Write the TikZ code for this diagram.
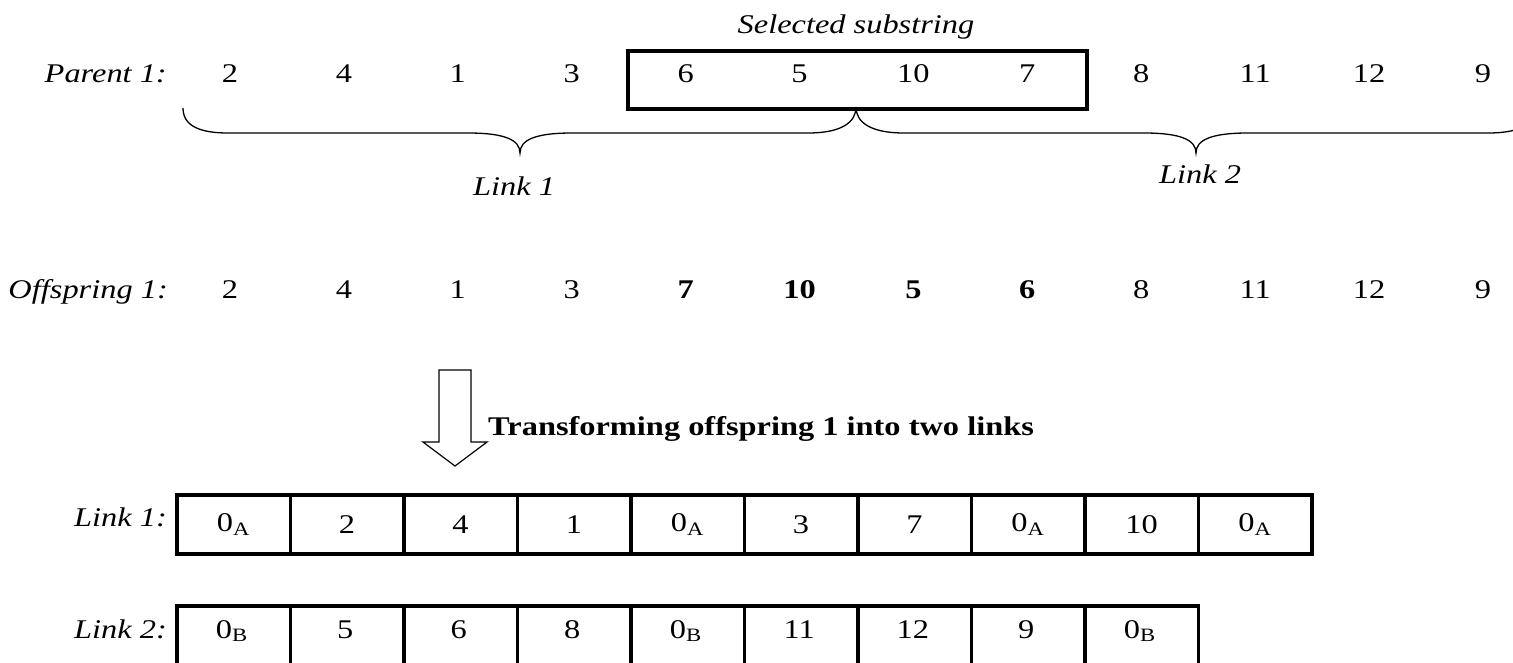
\documentclass[tikz,border=0pt]{standalone}
\usepackage{fontspec}
\setmainfont{Liberation Serif}[FakeStretch=1.2]
\begin{document}
\begin{tikzpicture}[x=1pt,y=-1pt,
  txt/.style={inner sep=0pt,anchor=base,font=\fontsize{27}{31}\selectfont},
  lbl/.style={txt,anchor=base east,font=\fontsize{27}{31}\selectfont\itshape},
  cell/.style={draw,line width=3.5pt,minimum width=113.5pt,inner sep=0pt,anchor=north west,font=\fontsize{27}{31}\selectfont},
  bracepath/.style={line width=1.3pt},
  thickbox/.style={draw,line width=3.5pt}]
\clip (0,0) rectangle (1513,662);
% row labels
\node[lbl] (p1) at (167,82) {Parent 1:};
\node[lbl] (o1) at (168,298) {Offspring 1:};
% parent numbers
\foreach \v [count=\i from 0] in {2,4,1,3,6,5,10,7,8,11,12,9}
  \node[txt] (p\i) at ({230+113.9*\i},82) {\v};
% offspring numbers
\foreach \v/\b [count=\i from 0] in {2/0,4/0,1/0,3/0,7/1,10/1,5/1,6/1,8/0,11/0,12/0,9/0}
  \node[txt] (o\i) at ({230+113.9*\i},298) {\ifnum\b=1 \bfseries\fi\v};
% selected substring box
\draw[line width=3.5pt] (628,51) rectangle (1087,109);
\node[txt,font=\fontsize{27}{31}\selectfont\itshape] (sel) at (856,33) {Selected substring};
% braces
\draw[bracepath] (183,108) .. controls (183,126) and (200,133) .. (228,133)
  -- (468,133) .. controls (505,133) and (520,140) .. (520,153)
  .. controls (520,140) and (535,133) .. (572,133)
  -- (808,133) .. controls (842,133) and (856,122) .. (856,107);
\draw[bracepath] (856,107) .. controls (856,122) and (870,133) .. (904,133)
  -- (1144,133) .. controls (1181,133) and (1196,140) .. (1196,153)
  .. controls (1196,140) and (1211,133) .. (1248,133)
  -- (1488,133) .. controls (1516,133) and (1536,126) .. (1536,108);
\node[txt,font=\fontsize{27}{31}\selectfont\itshape] (l1) at (514,195) {Link 1};
\node[txt,font=\fontsize{27}{31}\selectfont\itshape] (l2) at (1200,183) {Link 2};
% block arrow
\draw[line width=1.2pt] (439,370) -- (471,370) -- (471,442) -- (487,442) -- (455,466)
  -- (423,442) -- (439,442) -- cycle;
\node[txt,anchor=base west,font=\fontsize{27}{31}\selectfont\bfseries] (tr) at (488,435) {Transforming offspring 1 into two links};
% link tables
\node[lbl] (lk1) at (167,526) {Link 1:};
\node[lbl] (lk2) at (167,638) {Link 2:};
\foreach \v [count=\i from 0] in {0\textsubscript{A},2,4,1,0\textsubscript{A},3,7,0\textsubscript{A},10,0\textsubscript{A}}
  \node[cell,minimum height=59pt] (a\i) at ({175+113.5*\i},493) {\raisebox{-3pt}{\v}};
\foreach \v [count=\i from 0] in {0\textsubscript{B},5,6,8,0\textsubscript{B},11,12,9,0\textsubscript{B}}
  \node[cell,minimum height=80pt] (b\i) at ({175+113.5*\i},604) {};
\foreach \v [count=\i from 0] in {0\textsubscript{B},5,6,8,0\textsubscript{B},11,12,9,0\textsubscript{B}}
  \node[txt] (bt\i) at ({175+113.5*\i+56.75},638) {\v};
\end{tikzpicture}
\end{document}
